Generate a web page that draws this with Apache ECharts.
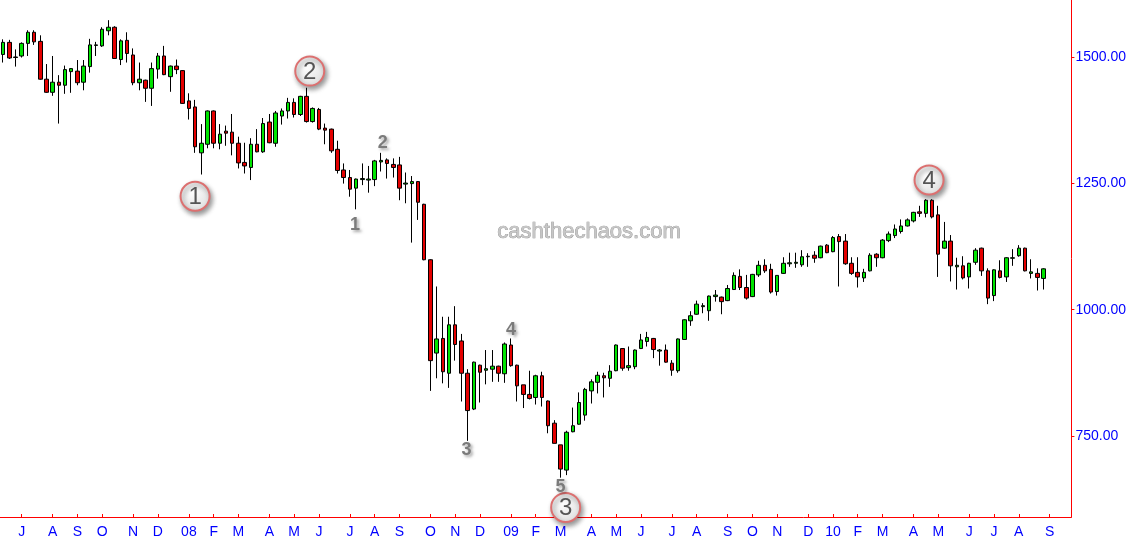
<!DOCTYPE html>
<html><head><meta charset="utf-8">
<script src="https://cdn.jsdelivr.net/npm/echarts@6/dist/echarts.min.js"></script>
<style>html,body{margin:0;padding:0;background:#fff}#c{width:1129px;height:553px}</style>
</head><body><div id="c"></div><script>
// Weekly bars, first week starting Monday 2007-06-11
const firstWeek = [2007, 5, 11];
const opens = [1506,1530,1501,1503,1528,1550,1532,1457,1431,1451,1445,1472,1473,1451,1482,1524,1523,1553,1560,1496,
1534,1505,1450,1455,1439,1477,1503,1462,1483,1474,1414,1402,1311,1328,1394,1330,1354,1352,1330,1292,
1282,1328,1313,1372,1330,1384,1394,1411,1387,1423,1373,1397,1360,1358,1318,1277,1262,1241,1258,1257,
1258,1293,1297,1288,1287,1249,1250,1254,1209,1099,914,943,874,970,938,874,803,890,880,882,
888,873,930,890,851,832,826,869,819,775,732,682,758,773,791,839,856,869,864,879,
923,885,887,923,937,943,918,920,894,879,941,978,991,1006,998,1026,1025,1018,1040,1066,
1044,1026,1069,1088,1080,1036,1072,1091,1092,1089,1105,1108,1103,1128,1115,1145,1136,1092,1074,1063,
1077,1110,1103,1137,1147,1155,1166,1176,1194,1191,1217,1188,1122,1136,1085,1087,1065,1094,1122,1077,
1028,1077,1065,1102,1107,1122,1072,1072,1062];
const closes = [1530,1499,1500,1528,1550,1531,1457,1431,1451,1445,1476,1478,1450,1483,1525,1525,1556,1560,1498,1533,
1508,1450,1457,1439,1478,1503,1466,1483,1476,1409,1399,1323,1330,1394,1330,1348,1350,1330,1291,1285,
1328,1313,1369,1331,1390,1394,1411,1387,1423,1373,1399,1358,1356,1315,1276,1262,1239,1259,1260,1259,
1295,1296,1290,1282,1241,1251,1254,1213,1099,899,942,877,970,931,874,800,896,876,883,888,
874,932,889,849,832,824,869,826,770,735,684,757,770,816,842,857,870,865,878,930,
884,889,920,940,945,921,920,896,880,942,980,988,1011,1008,1027,1029,1016,1042,1068,1044,
1023,1070,1088,1077,1035,1068,1092,1093,1094,1105,1106,1102,1126,1113,1143,1135,1091,1072,1065,1074,
1108,1103,1138,1150,1160,1166,1178,1193,1191,1217,1184,1110,1136,1087,1088,1063,1092,1118,1077,1023,
1079,1064,1103,1103,1122,1077,1075,1064,1081];
const lows = [1490,1497,1482,1500,1503,1525,1456,1430,1424,1369,1428,1430,1445,1435,1470,1503,1521,1544,1497,1485,
1490,1445,1435,1412,1404,1458,1465,1432,1467,1408,1377,1311,1268,1320,1320,1318,1325,1306,1280,1270,
1257,1312,1311,1330,1323,1367,1379,1381,1384,1371,1371,1356,1328,1311,1270,1250,1224,1199,1247,1232,
1245,1274,1260,1262,1217,1211,1133,1178,1098,839,864,854,845,899,818,740,801,816,852,857,
857,855,887,818,805,822,812,808,755,735,667,672,757,772,780,814,834,826,847,878,
879,879,882,922,927,904,889,895,869,875,940,968,990,993,978,1016,991,1017,1039,1039,
1020,1025,1065,1073,1032,1028,1071,1085,1083,1085,1085,1093,1102,1112,1114,1046,1089,1069,1044,1055,
1076,1085,1102,1134,1142,1151,1165,1173,1184,1183,1181,1065,1121,1056,1040,1060,1042,1089,1067,1011,
1017,1062,1055,1087,1105,1076,1062,1038,1040];
const highs = [1536,1535,1516,1530,1554,1554,1544,1487,1503,1465,1484,1479,1495,1495,1537,1531,1560,1574,1562,1536,
1550,1518,1490,1456,1490,1509,1523,1484,1496,1475,1429,1416,1368,1395,1395,1368,1365,1388,1343,1331,
1340,1358,1380,1388,1394,1399,1420,1419,1424,1440,1401,1400,1369,1359,1335,1290,1277,1260,1290,1285,
1297,1311,1300,1300,1303,1272,1265,1255,1210,1100,1046,986,986,1007,952,882,897,891,920,920,
889,935,943,891,851,879,871,877,820,781,732,760,806,836,845,862,877,875,890,931,
924,927,921,952,956,944,922,931,900,943,981,997,1018,1013,1028,1039,1026,1049,1074,1080,
1069,1071,1097,1100,1091,1068,1104,1113,1113,1118,1112,1116,1127,1130,1146,1150,1150,1104,1104,1081,
1112,1112,1140,1155,1169,1179,1181,1194,1206,1219,1219,1206,1174,1148,1103,1106,1093,1122,1123,1082,
1080,1098,1104,1120,1128,1123,1100,1082,1082];
const emptyWeeksAfter = 4;
const monthLetters = ['J','F','M','A','M','J','J','A','S','O','N','D'];
const priceTicks = [750, 1000, 1250, 1500];
const circledMarks = [[31,1225,'1',0],[50,1473,'2',-3],[91,608,'3',-1],[150,1257,'4',-3]];
const plainMarks = [[57,1168,'1',-1],[61,1331,'2',2],[75,722,'3',-1],[82,960,'4',0],[90,649,'5',0]];

const categories = [];
for (let i = 0; i < opens.length + emptyWeeksAfter; i++) {
  const d = new Date(Date.UTC(firstWeek[0], firstWeek[1], firstWeek[2] + 7 * i));
  categories.push(d.toISOString().slice(0, 10));
}
const monthStart = {};
for (let i = 1; i < categories.length; i++) {
  const m = +categories[i].slice(5, 7), pm = +categories[i - 1].slice(5, 7);
  if (m !== pm) monthStart[i] = (m === 1) ? categories[i].slice(2, 4) : monthLetters[m - 1];
}
const ohlc = opens.map((o, i) => [o, closes[i], lows[i], highs[i]]);

const FONT = "'Liberation Sans Narrow','Liberation Sans',Arial,sans-serif";
const mpData = [];
circledMarks.forEach(([i, p, t, dx]) => mpData.push({
  coord: [i, p], value: t, symbol: 'circle', symbolSize: 29, symbolOffset: [dx, 0],
  itemStyle: {
    color: {type: 'radial', x: 0.4, y: 0.35, r: 0.7, colorStops: [{offset: 0, color: '#ffffff'}, {offset: 1, color: '#dedede'}]},
    borderColor: '#dc7070', borderWidth: 2,
    shadowBlur: 5, shadowColor: 'rgba(0,0,0,0.4)', shadowOffsetX: 2, shadowOffsetY: 3
  },
  label: {show: true, position: 'inside', formatter: t, color: '#555555', fontSize: 24, fontFamily: 'Arial, Liberation Sans', offset: [0, 1]}
}));
plainMarks.forEach(([i, p, t, dx]) => mpData.push({
  coord: [i, p], value: t, symbol: 'circle', symbolSize: 1, symbolOffset: [dx, 0],
  itemStyle: {color: 'rgba(0,0,0,0)'},
  label: {show: true, position: 'inside', formatter: t, color: '#7b7b7b', fontSize: 18, fontWeight: 'bold',
    fontFamily: 'Arial, Liberation Sans', textShadowColor: 'rgba(0,0,0,0.35)', textShadowBlur: 3, textShadowOffsetX: 2, textShadowOffsetY: 2}
}));

const chart = echarts.init(document.getElementById('c'), null, {renderer: 'canvas'});
chart.setOption({
  animation: false,
  backgroundColor: '#ffffff',
  grid: {left: -2, right: 53, top: 0, bottom: 36},
  xAxis: {
    type: 'category', data: categories, boundaryGap: true,
    axisLine: {lineStyle: {color: '#ff0000', width: 1}},
    axisTick: {show: true, inside: true, length: 3, alignWithLabel: true, interval: (idx) => idx in monthStart, lineStyle: {color: '#ff0000'}},
    axisLabel: {interval: (idx) => idx in monthStart, formatter: (v, idx) => monthStart[idx] || '', color: '#0000ff', fontSize: 14, fontFamily: FONT, margin: 8},
    splitLine: {show: false}
  },
  yAxis: {
    type: 'value', position: 'right', min: 589, max: 1614, scale: true,
    axisLine: {show: true, lineStyle: {color: '#ff0000', width: 1}},
    axisTick: {show: true, length: 3, customValues: priceTicks, lineStyle: {color: '#ff0000'}},
    axisLabel: {customValues: priceTicks, formatter: (v) => v.toFixed(2), color: '#0000ff', fontSize: 14, fontFamily: FONT, margin: 4},
    splitLine: {show: false}
  },
  graphic: [{
    type: 'text', left: 497, top: 221, z: 0, silent: true,
    style: {text: 'cashthechaos.com', font: '22px Arial, "Liberation Sans"', fill: '#c6c6c6', stroke: '#8c8c8c', lineWidth: 0.7,
      shadowColor: 'rgba(0,0,0,0.3)', shadowBlur: 2, shadowOffsetX: 1, shadowOffsetY: 1}
  }],
  series: [{
    type: 'candlestick', data: ohlc, barWidth: 4,
    itemStyle: {color: '#00e400', color0: '#e40000', borderColor: '#000000', borderColor0: '#000000', borderColorDoji: '#000000', borderWidth: 1},
    markPoint: {silent: true, data: mpData}
  }]
});
</script></body></html>
